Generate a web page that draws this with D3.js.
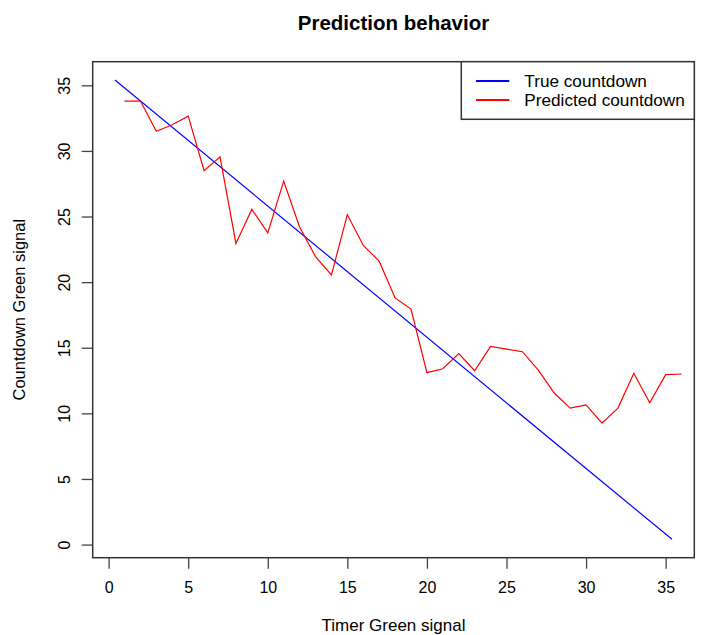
<!DOCTYPE html>
<html>
<head>
<meta charset="utf-8">
<script src="https://cdn.jsdelivr.net/npm/d3@7"></script>
<style>
  body { margin: 0; background: #fff; }
  text { font-family: "Liberation Sans", Arial, sans-serif; fill: #000; }
</style>
</head>
<body>
<div id="chart"></div>
<script>
// data
const trueX = [0.4, 35.4];
const trueY = [35.4, 0.4];

const predX = [1, 2, 3, 4, 5, 6, 7, 8, 9, 10, 11, 12, 13, 14, 15, 16, 17, 18,
    19, 20, 21, 22, 23, 24, 25, 26, 27, 28, 29, 30, 31, 32, 33, 34, 35, 36];
const predY = [33.8, 33.8, 31.5, 32.0, 32.65, 28.5, 29.55, 22.95, 25.55, 23.75, 27.7, 24.2,
    21.95, 20.55, 25.15, 22.8, 21.6, 18.8, 17.95, 13.1, 13.4, 14.55, 13.25, 15.1,
    14.9, 14.7, 13.3, 11.55, 10.4, 10.65, 9.25, 10.4, 13.05, 10.8, 12.95, 13.0];

const xTicks = [0, 5, 10, 15, 20, 25, 30, 35];
const yTicks = [0, 5, 10, 15, 20, 25, 30, 35];

const legendLabels = ['True countdown', 'Predicted countdown'];
const legendColors = ['#0000ff', '#ff0000'];

var margin = {top: 61.7, right: 12.7, bottom: 77.3, left: 92.7},
    width = 707 - margin.left - margin.right,
    height = 635 - margin.top - margin.bottom;

const svg = d3.select('#chart')
    .append('svg')
    .attr('width', 707)
    .attr('height', 635)
    .append('g')
    .attr('transform', 'translate(' + margin.left + ',' + margin.top + ')');

// R style limits: data range plus 4% each side
function pad(ext) {
    const r = ext[1] - ext[0];
    return [ext[0] - r * 0.04, ext[1] + r * 0.04];
}

const xScale = d3.scaleLinear()
    .domain(pad(d3.extent(trueX)))
    .range([0, width]);

const yScale = d3.scaleLinear()
    .domain(pad(d3.extent(trueY)))
    .range([height, 0]);

// axes
const xAxis = svg.append('g')
    .attr('class', 'x-axis')
    .attr('transform', `translate(0, ${height})`)
    .call(d3.axisBottom(xScale).tickValues(xTicks).tickSize(11).tickFormat(d3.format('d')));

xAxis.select('.domain').remove();
xAxis.selectAll('line').attr('stroke', '#444').attr('stroke-width', 1.3);
xAxis.selectAll('text')
    .attr('y', 35.8)
    .attr('dy', null)
    .style('font-size', '16px')
    .style('font-family', '"Liberation Sans", Arial, sans-serif');

const yAxis = svg.append('g')
    .attr('class', 'y-axis')
    .call(d3.axisLeft(yScale).tickValues(yTicks).tickSize(11).tickFormat(d3.format('d')));

yAxis.select('.domain').remove();
yAxis.selectAll('line').attr('stroke', '#444').attr('stroke-width', 1.3);
yAxis.selectAll('text')
    .attr('transform', 'rotate(-90)')
    .attr('x', 0)
    .attr('y', -22.7)
    .attr('dy', null)
    .attr('text-anchor', 'middle')
    .style('font-size', '16px')
    .style('font-family', '"Liberation Sans", Arial, sans-serif');

// lines
const line = d3.line()
    .x(d => xScale(d[0]))
    .y(d => yScale(d[1]));

svg.append('path')
    .datum(trueX.map((x, i) => [x, trueY[i]]))
    .attr('fill', 'none')
    .attr('stroke', legendColors[0])
    .attr('stroke-width', 1.2)
    .attr('d', line);

svg.append('path')
    .datum(predX.map((x, i) => [x, predY[i]]))
    .attr('fill', 'none')
    .attr('stroke', legendColors[1])
    .attr('stroke-width', 1.2)
    .attr('d', line);

// box
svg.append('rect')
    .attr('width', width)
    .attr('height', height)
    .attr('fill', 'none')
    .attr('stroke', '#333')
    .attr('stroke-width', 1.5);

// legend
const legend = svg.append('g')
    .attr('transform', `translate(${461.3 - margin.left}, 0)`);

legend.append('rect')
    .attr('width', 694.3 - 461.3)
    .attr('height', 57.6)
    .attr('fill', '#fff')
    .attr('stroke', '#333')
    .attr('stroke-width', 1.5);

legendLabels.forEach((lab, i) => {
    legend.append('line')
        .attr('x1', 14.7).attr('x2', 48)
        .attr('y1', 19.3 + i * 19).attr('y2', 19.3 + i * 19)
        .attr('stroke', legendColors[i])
        .attr('stroke-width', 2.2);
    legend.append('text')
        .attr('x', 63)
        .attr('y', 25 + i * 19)
        .style('font-size', '17.2px')
        .text(lab);
});

// titles
svg.append('text')
    .attr('x', width / 2)
    .attr('y', 30 - margin.top)
    .attr('text-anchor', 'middle')
    .style('font-size', '20.5px')
    .style('font-weight', 'bold')
    .text('Prediction behavior');

svg.append('text')
    .attr('x', width / 2)
    .attr('y', height + 73)
    .attr('text-anchor', 'middle')
    .style('font-size', '17px')
    .text('Timer Green signal');

svg.append('text')
    .attr('transform', 'rotate(-90)')
    .attr('x', -height / 2)
    .attr('y', 25 - margin.left)
    .attr('text-anchor', 'middle')
    .style('font-size', '16.5px')
    .text('Countdown Green signal');
</script>
</body>
</html>
